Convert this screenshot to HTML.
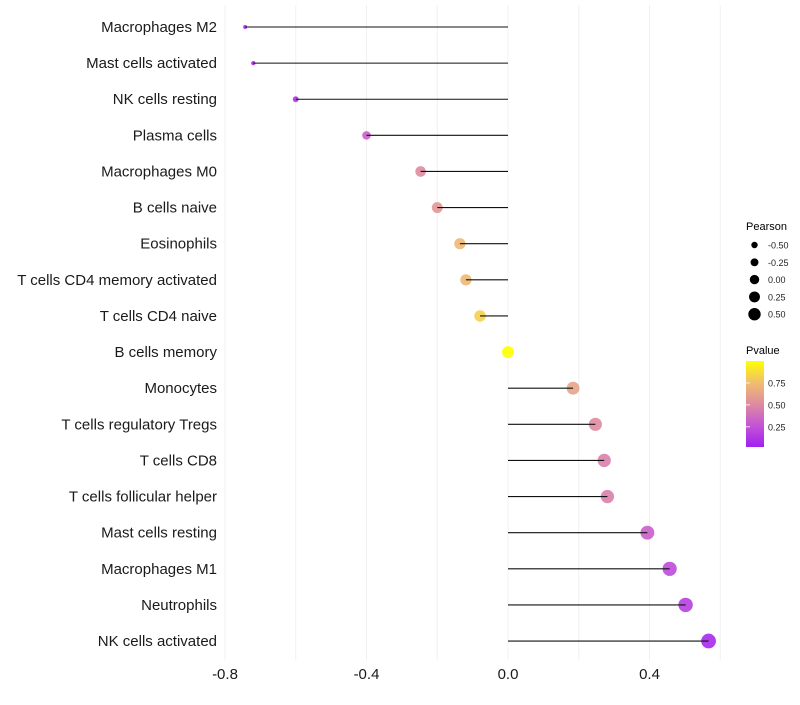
<!DOCTYPE html>
<html><head><meta charset="utf-8"><style>
body{margin:0;background:#fff;font-family:"Liberation Sans",sans-serif}
</style></head><body>
<svg id="c" width="800" height="700" xmlns="http://www.w3.org/2000/svg" font-family="Liberation Sans, sans-serif"></svg>
<script>
const categories=["Macrophages M2","Mast cells activated","NK cells resting","Plasma cells","Macrophages M0","B cells naive","Eosinophils","T cells CD4 memory activated","T cells CD4 naive","B cells memory","Monocytes","T cells regulatory  Tregs ","T cells CD8","T cells follicular helper","Mast cells resting","Macrophages M1","Neutrophils","NK cells activated"];
const pearson=[-0.743,-0.72,-0.60,-0.40,-0.247,-0.20,-0.136,-0.119,-0.079,0.0,0.184,0.247,0.272,0.281,0.394,0.457,0.502,0.567];
const pvalue=[0.03,0.05,0.1,0.3,0.5,0.55,0.72,0.72,0.82,1.0,0.62,0.5,0.45,0.45,0.3,0.2,0.15,0.05];
const xTicks=[-0.8,-0.4,0.0,0.4];
const gridVals=[-0.8,-0.6,-0.4,-0.2,0,0.2,0.4,0.6];
const sizeLegend=[-0.5,-0.25,0,0.25,0.5];
const colorLegendTicks=[0.25,0.5,0.75];
const NS="http://www.w3.org/2000/svg";
const svg=document.getElementById('c');
const x=v=>508+v*353.75;
const y=i=>27+i*36.12;
const r=p=>p<-0.25?2+(p+0.74)*6.7:5.3+2.1*(p+0.25)/0.82;
const stops=[[0,[160,32,240]],[0.25,[196,84,214]],[0.5,[222,140,160]],[0.75,[240,190,110]],[1,[255,255,0]]];
function col(p){for(let i=1;i<stops.length;i++){if(p<=stops[i][0]){const a=stops[i-1],b=stops[i],t=(p-a[0])/(b[0]-a[0]);return 'rgb('+a[1].map((c,k)=>Math.round(c+(b[1][k]-c)*t)).join(',')+')';}}return 'rgb(255,255,0)';}
function el(t,a,txt){const e=document.createElementNS(NS,t);for(const k in a)e.setAttribute(k,a[k]);if(txt!==undefined)e.textContent=txt;svg.appendChild(e);return e;}
gridVals.forEach(v=>{const g=el('line',{x1:x(v),x2:x(v),y1:5,y2:660,stroke:'#f0f0f0','stroke-width':1});

});
categories.forEach((c,i)=>{
const t=el('text',{x:217,y:y(i)+5,'text-anchor':'end','font-size':15,fill:'#1a1a1a'},c);


const d=el('circle',{cx:x(pearson[i]),cy:y(i),r:r(pearson[i]),fill:col(pvalue[i]),'fill-opacity':0.9});


const l=el('line',{x1:x(0),x2:x(pearson[i]),y1:y(i),y2:y(i),stroke:'#111','stroke-width':1.1});


});
xTicks.forEach(v=>{const t=el('text',{x:x(v),y:679,'text-anchor':'middle','font-size':15,fill:'#1a1a1a'},v.toFixed(1));

});
const lt=el('text',{x:746,y:230,'font-size':11,fill:'#000'},'Pearson');


sizeLegend.forEach((v,i)=>{const cy=245+i*17.3;
const c=el('circle',{cx:754.5,cy:cy,r:4.7+3*v,fill:'#000'});


const t=el('text',{x:768,y:cy+3.5,'font-size':9,fill:'#222'},v.toFixed(2));

});
const ct=el('text',{x:746,y:354,'font-size':11,fill:'#000'},'Pvalue');


const defs=el('defs',{});
const lg=document.createElementNS(NS,'linearGradient');lg.setAttribute('id','g');lg.setAttribute('x1','0');lg.setAttribute('y1','1');lg.setAttribute('x2','0');lg.setAttribute('y2','0');
const pmin=0.02,pmax=1.0;
stops.forEach(s=>{const st=document.createElementNS(NS,'stop');st.setAttribute('offset',s[0]);st.setAttribute('stop-color',col(s[0]));lg.appendChild(st);});
defs.appendChild(lg);
const cbTop=361,cbBot=447;
const py=p=>cbBot-(p-pmin)/(pmax-pmin)*(cbBot-cbTop);
const bar=el('rect',{x:746,y:cbTop,width:18,height:cbBot-cbTop,fill:'url(#g)'});


colorLegendTicks.forEach(v=>{
const tk=el('line',{x1:746,x2:750,y1:py(v),y2:py(v),stroke:'#fff','stroke-width':0.8});


const t=el('text',{x:768,y:py(v)+3.5,'font-size':9,fill:'#222'},v.toFixed(2));

});
</script>
</body></html>
